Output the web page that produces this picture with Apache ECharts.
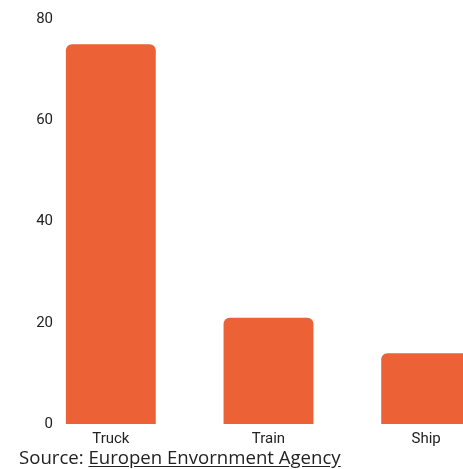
<!DOCTYPE html>
<html>
<head>
<meta charset="utf-8">
<script src="https://cdn.jsdelivr.net/npm/echarts@6/dist/echarts.min.js"></script>
<style>
  html, body { margin: 0; padding: 0; background: #fff; }
  #wrap { position: relative; width: 463px; height: 469px; overflow: hidden; }
  #chart { position: absolute; left: 0; top: 0; width: 463px; height: 469px; }
  #source {
    position: absolute; left: 19px; top: 445px;
    font-family: "Open Sans", sans-serif; font-size: 18.6px; color: #222;
    white-space: nowrap; line-height: 24px;
  }
  #source u { text-underline-offset: 2px; }
</style>
</head>
<body>
<div id="wrap">
  <div id="chart"></div>
  <div id="source">Source: <u>Europen Envornment Agency</u></div>
</div>
<script>
// Transport modes and their values
const categories = ['Truck', 'Train', 'Ship'];
const values = [75, 21, 14];
const yTicks = [0, 20, 40, 60, 80];

const chart = echarts.init(document.getElementById('chart'), null, { renderer: 'canvas' });

chart.setOption({
  animation: false,
  grid: {
    left: 32, width: 473, top: 19, bottom: 45,
    containLabel: false, outerBoundsMode: 'none'
  },
  xAxis: {
    type: 'category',
    data: categories,
    axisLine: { show: false },
    axisTick: { show: false },
    axisLabel: { color: '#222', fontFamily: 'Roboto', fontSize: 15, margin: 8 }
  },
  yAxis: {
    type: 'value',
    min: yTicks[0],
    max: yTicks[yTicks.length - 1],
    interval: yTicks[1] - yTicks[0],
    offset: -29,
    splitLine: { show: false },
    axisLine: { show: false },
    axisTick: { show: false },
    axisLabel: { color: '#222', fontFamily: 'Roboto', fontSize: 15, margin: 8 }
  },
  series: [{
    type: 'bar',
    data: values,
    barWidth: '57%',
    itemStyle: { color: '#EC6135', borderRadius: [6, 6, 0, 0] }
  }]
});
</script>
</body>
</html>
